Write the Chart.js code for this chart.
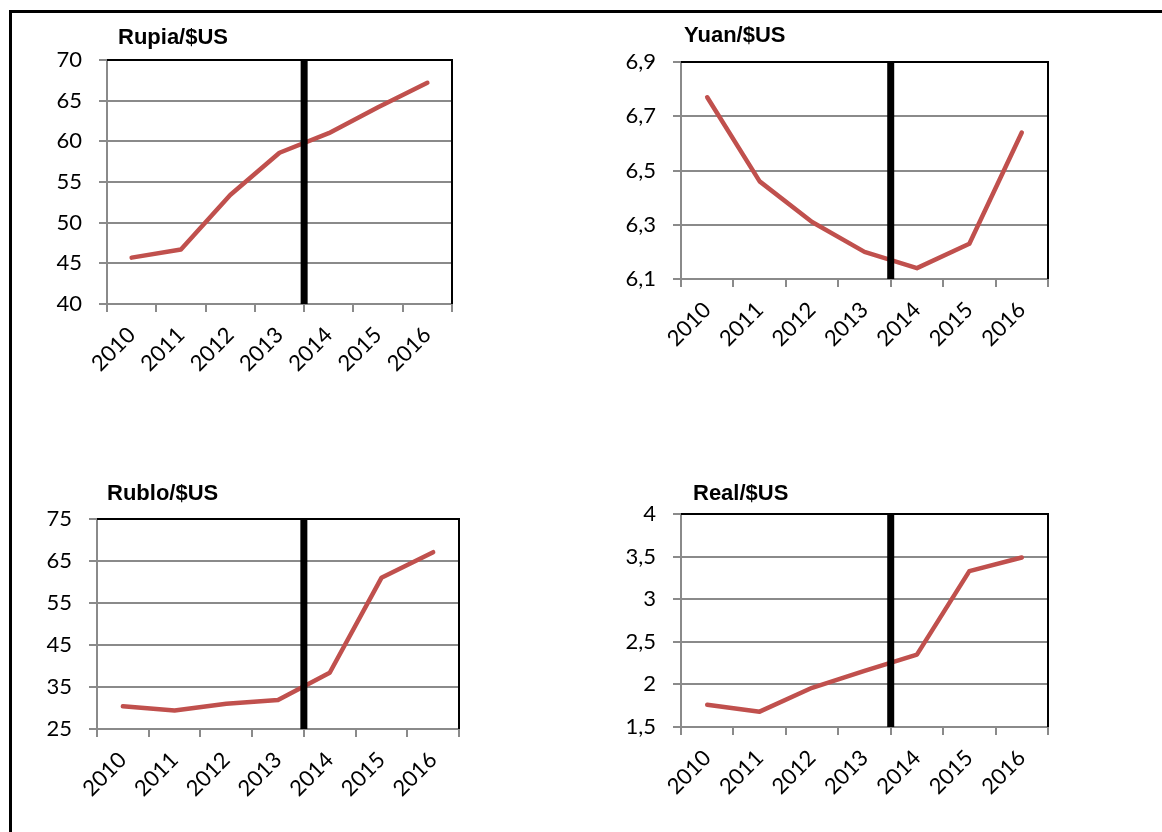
<!DOCTYPE html>
<html>
<head>
<meta charset="utf-8">
<title>Tipos de cambio frente al dólar</title>
<script src="https://cdn.jsdelivr.net/npm/chart.js@4/dist/chart.umd.min.js"></script>
<style>
  html, body { margin: 0; padding: 0; background: #fff; }
  body { width: 1162px; height: 832px; position: relative; overflow: hidden; }
  #marco { position: absolute; left: 9px; top: 10px; width: 1200px; height: 900px;
           border-top: 3px solid #000; border-left: 3px solid #000; }
  canvas { position: absolute; }
</style>
</head>
<body>
<div id="marco"></div>
<canvas id="rupia"></canvas>
<canvas id="yuan"></canvas>
<canvas id="rublo"></canvas>
<canvas id="real"></canvas>
<script>
// Años y tipos de cambio medios (moneda local por dólar)
const years = ['2010', '2011', '2012', '2013', '2014', '2015', '2016'];
const rupiaPorDolar = [45.7, 46.7, 53.4, 58.6, 61.0, 64.2, 67.2];
const yuanPorDolar  = [6.77, 6.46, 6.31, 6.20, 6.14, 6.23, 6.64];
const rubloPorDolar = [30.4, 29.4, 31.0, 31.9, 38.4, 61.0, 67.1];
const realPorDolar  = [1.76, 1.68, 1.96, 2.16, 2.35, 3.33, 3.49];

// Marcas del eje vertical de cada gráfico
const rupiaTicks = [40, 45, 50, 55, 60, 65, 70];
const yuanTicks  = [6.1, 6.3, 6.5, 6.7, 6.9];
const rubloTicks = [25, 35, 45, 55, 65, 75];
const realTicks  = [1.5, 2, 2.5, 3, 3.5, 4];

// Línea vertical de corte entre estos dos años
const corteEntre = ['2013', '2014'];

const panels = [
  { id: 'rupia', title: 'Rupia/$US', data: rupiaPorDolar, ticks: rupiaTicks,
    area: { l: 107, t: 60,  r: 452,  b: 304 }, titleDx: 11, titleY: 38 },
  { id: 'yuan',  title: 'Yuan/$US',  data: yuanPorDolar,  ticks: yuanTicks,
    area: { l: 681, t: 62,  r: 1048, b: 279 }, titleDx: 3,  titleY: 36 },
  { id: 'rublo', title: 'Rublo/$US', data: rubloPorDolar, ticks: rubloTicks,
    area: { l: 97,  t: 519, r: 459,  b: 729 }, titleDx: 10, titleY: 494 },
  { id: 'real',  title: 'Real/$US',  data: realPorDolar,  ticks: realTicks,
    area: { l: 681, t: 514, r: 1048, b: 727 }, titleDx: 12, titleY: 494 }
];

const PAD_L = 10, Y_W = 70, PAD_T = 50, PAD_R = 20, X_H = 90, PAD_B = 10;
const GRIS = '#8a8a8a';
const tickFont = { family: 'Lato, "Open Sans", sans-serif', size: 22 };

// Borde negro superior/derecho, título y barra vertical de corte
const decoracion = {
  id: 'decoracion',
  afterDatasetsDraw(chart, args, opts) {
    const ctx = chart.ctx;
    const ca = chart.chartArea;
    const x = chart.scales.x;
    ctx.save();
    // marco del área de trazado
    ctx.strokeStyle = '#000';
    ctx.lineWidth = 2;
    ctx.beginPath();
    ctx.moveTo(ca.left, ca.top);
    ctx.lineTo(ca.right, ca.top);
    ctx.lineTo(ca.right, ca.bottom);
    ctx.stroke();
    // barra de corte entre dos años
    const xc = (x.getPixelForValue(years.indexOf(corteEntre[0])) +
                x.getPixelForValue(years.indexOf(corteEntre[1]))) / 2;
    ctx.lineWidth = 7;
    ctx.beginPath();
    ctx.moveTo(xc, ca.top);
    ctx.lineTo(xc, ca.bottom);
    ctx.stroke();
    // título
    ctx.fillStyle = '#000';
    ctx.font = 'bold 22px "Liberation Sans", Arial, sans-serif';
    ctx.textBaseline = 'middle';
    ctx.textAlign = 'left';
    ctx.fillText(opts.title, ca.left + opts.dx, opts.y);
    ctx.restore();
  }
};

panels.forEach(p => {
  const a = p.area;
  const cv = document.getElementById(p.id);
  const w = (a.r - a.l) + PAD_L + Y_W + PAD_R;
  const h = (a.b - a.t) + PAD_T + X_H + PAD_B;
  cv.width = w; cv.height = h;
  cv.style.width = w + 'px'; cv.style.height = h + 'px';
  cv.style.left = (a.l - PAD_L - Y_W) + 'px';
  cv.style.top = (a.t - PAD_T) + 'px';

  new Chart(cv, {
    type: 'line',
    data: {
      labels: years,
      datasets: [{
        data: p.data,
        borderColor: '#C0504D',
        borderWidth: 4.5,
        borderCapStyle: 'round',
        borderJoinStyle: 'round',
        pointRadius: 0,
        tension: 0,
        fill: false
      }]
    },
    options: {
      responsive: false,
      devicePixelRatio: 1,
      animation: false,
      events: [],
      layout: { padding: { left: PAD_L, top: PAD_T, right: PAD_R, bottom: PAD_B } },
      plugins: {
        legend: { display: false },
        tooltip: { enabled: false },
        decoracion: { title: p.title, dx: p.titleDx, y: p.titleY - (a.t - PAD_T) }
      },
      scales: {
        x: {
          type: 'category',
          offset: true,
          grid: { offset: true, drawOnChartArea: false, drawTicks: true,
                  tickLength: 8, color: GRIS, lineWidth: 2 },
          border: { display: true, color: GRIS, width: 2 },
          ticks: { font: tickFont, color: '#000', minRotation: 45, maxRotation: 45,
                   autoSkip: false, padding: 10, labelOffset: 0 },
          afterFit(s) { s.height = X_H; }
        },
        y: {
          min: p.ticks[0],
          max: p.ticks[p.ticks.length - 1],
          afterBuildTicks(s) { s.ticks = p.ticks.map(v => ({ value: v })); },
          grid: { color: GRIS, lineWidth: 2, tickLength: 8, drawTicks: true },
          border: { display: true, color: GRIS, width: 2 },
          ticks: {
            font: tickFont, color: '#000', padding: 17,
            callback: v => String(v).replace('.', ',')
          },
          afterFit(s) { s.width = Y_W; }
        }
      }
    },
    plugins: [decoracion]
  });
});
</script>
</body>
</html>
